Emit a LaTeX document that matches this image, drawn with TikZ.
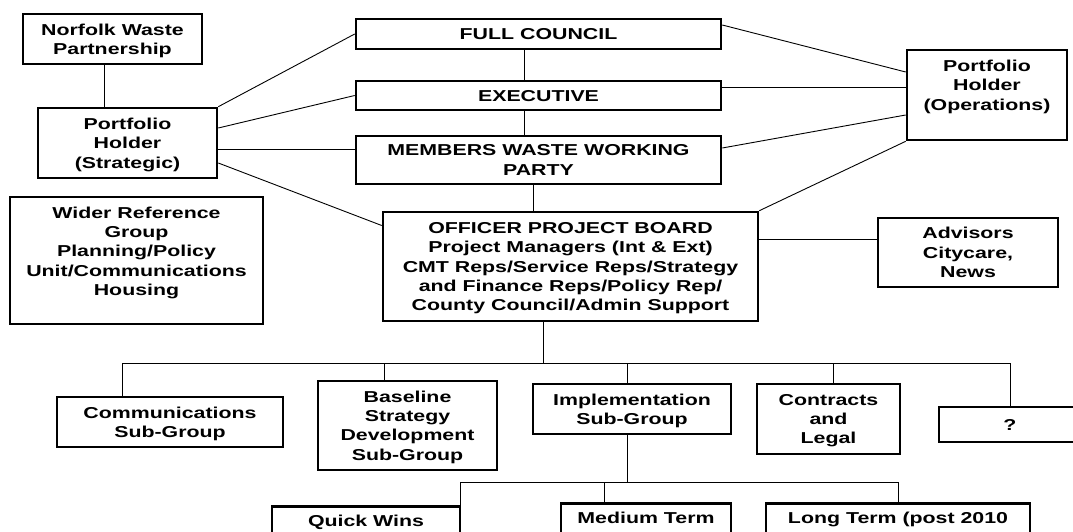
\documentclass[tikz,border=0pt]{standalone}
\usepackage{fontspec}
\setmainfont{Liberation Sans}[FakeStretch=1.35]
\usetikzlibrary{positioning,calc}

\begin{document}
\begin{tikzpicture}[
    x=1pt, y=-1pt,
    box/.style={rectangle, draw, line width=2.6pt, align=center, inner sep=3pt, text depth=0pt,
        font=\fontsize{15.8}{19.3}\selectfont\bfseries},
    term/.style={box, anchor=north, inner ysep=9pt, text depth=40pt},
    link/.style={line width=0.9pt}
]
\useasboundingbox (0,0) rectangle (1073,532);
\clip (0,0) rectangle (1073,532);

% Left column
\node[box, minimum width=179, minimum height=50] (norfolk) at (112.5,39) {Norfolk Waste\\Partnership};
\node[box, minimum width=179, minimum height=70] (strategic) at (127.5,143) {Portfolio\\Holder\\(Strategic)};
\node[box, minimum width=253, minimum height=127, text depth=19pt] (wider) at (136.5,260.5) {Wider Reference\\Group\\Planning/Policy\\Unit/Communications\\Housing};

% Members
\node[box, minimum width=365, minimum height=30] (council) at (538.5,34) {FULL COUNCIL};
\node[box, minimum width=365, minimum height=29] (exec) at (538.5,95.5) {EXECUTIVE};
\node[box, minimum width=365, minimum height=48] (mwwp) at (538.5,160) {MEMBERS WASTE WORKING\\PARTY};

% Officers
\node[box, minimum width=375, minimum height=109] (opb) at (570.5,266.5) {OFFICER PROJECT BOARD\\Project Managers (Int \& Ext)\\CMT Reps/Service Reps/Strategy\\and Finance Reps/Policy Rep/\\County Council/Admin Support};

% Right column
\node[box, minimum width=160, minimum height=90, text depth=20pt] (ops) at (987,95) {Portfolio\\Holder\\(Operations)};
\node[box, minimum width=180, minimum height=69] (advisors) at (968,252.5) {Advisors\\Citycare,\\News};

% Sub-groups
\node[box, minimum width=226, minimum height=50] (comm) at (170,422) {Communications\\Sub-Group};
\node[box, minimum width=179, minimum height=89] (baseline) at (407.5,425.5) {Baseline\\Strategy\\Development\\Sub-Group};
\node[box, minimum width=198, minimum height=50] (impl) at (632,409) {Implementation\\Sub-Group};
\node[box, minimum width=143, minimum height=70] (contracts) at (828.5,419) {Contracts\\and\\Legal};
\node[box, minimum width=142, minimum height=35] (unknown) at (1010,424.5) {?};

% Terms
\node[term, minimum width=188] (quick) at (366,505) {Quick Wins};
\node[term, minimum width=170] (medium) at (646,502) {Medium Term};
\node[term, minimum width=264] (long) at (898,502) {Long Term (post 2010};

% Links on the left
\draw[link] ([xshift=-8pt]norfolk.south) -- ([xshift=-8pt]norfolk.south |- strategic.north);
\draw[link] (strategic.north east) -- (council.west);
\draw[link] ([yshift=15pt]strategic.east) -- (exec.west);
\draw[link] ([yshift=-6pt]strategic.east) -- ([yshift=-6pt]strategic.east -| mwwp.west);
\draw[link] ([yshift=-20pt]strategic.east) -- ([yshift=41pt]opb.west);

% Chain down the middle
\draw[link] ([xshift=-14pt]council.south) -- ([xshift=-14pt]council.south |- exec.north);
\draw[link] ([xshift=-14pt]exec.south) -- ([xshift=-14pt]exec.south |- mwwp.north);
\draw[link] ([xshift=-5pt]mwwp.south) -- ([xshift=-5pt]mwwp.south |- opb.north);

% Links on the right
\draw[link] ([yshift=9pt]council.east) -- ([yshift=23pt]ops.west);
\draw[link] ([yshift=8pt]exec.east) -- ([yshift=8pt]exec.east -| ops.west);
\draw[link] ([yshift=12pt]mwwp.east) -- ([yshift=-20pt]ops.west);
\draw[link] (opb.north east) -- (ops.south west);
\draw[link] ([yshift=27pt]opb.east) -- ([yshift=27pt]opb.east -| advisors.west);

% Bus to the sub-groups
\coordinate (busl) at (122,363);
\coordinate (busr) at (1010,363);
\draw[link] ([xshift=-27.5pt]opb.south) -- ([xshift=-27.5pt]opb.south |- busl);
\draw[link] (busl) -- (busr);
\draw[link] (busl) -- (busl |- comm.north);
\draw[link] ([xshift=-23.5pt]baseline.north) -- ([xshift=-23.5pt]baseline.north |- busl);
\draw[link] ([xshift=-5pt]impl.north) -- ([xshift=-5pt]impl.north |- busl);
\draw[link] ([xshift=4.5pt]contracts.north) -- ([xshift=4.5pt]contracts.north |- busl);
\draw[link] (busr) -- (unknown.north);

% Bus to the terms
\coordinate (subl) at (460,482);
\coordinate (subr) at (898,482);
\draw[link] ([xshift=-5pt]impl.south) -- ([xshift=-5pt]impl.south |- subl);
\draw[link] (subl) -- (subr);
\draw[link] (subl) -- (subl |- quick.north);
\draw[link] ([xshift=-42pt]medium.north) -- ([xshift=-42pt]medium.north |- subl);
\draw[link] (subr) -- (long.north);

\end{tikzpicture}
\end{document}
